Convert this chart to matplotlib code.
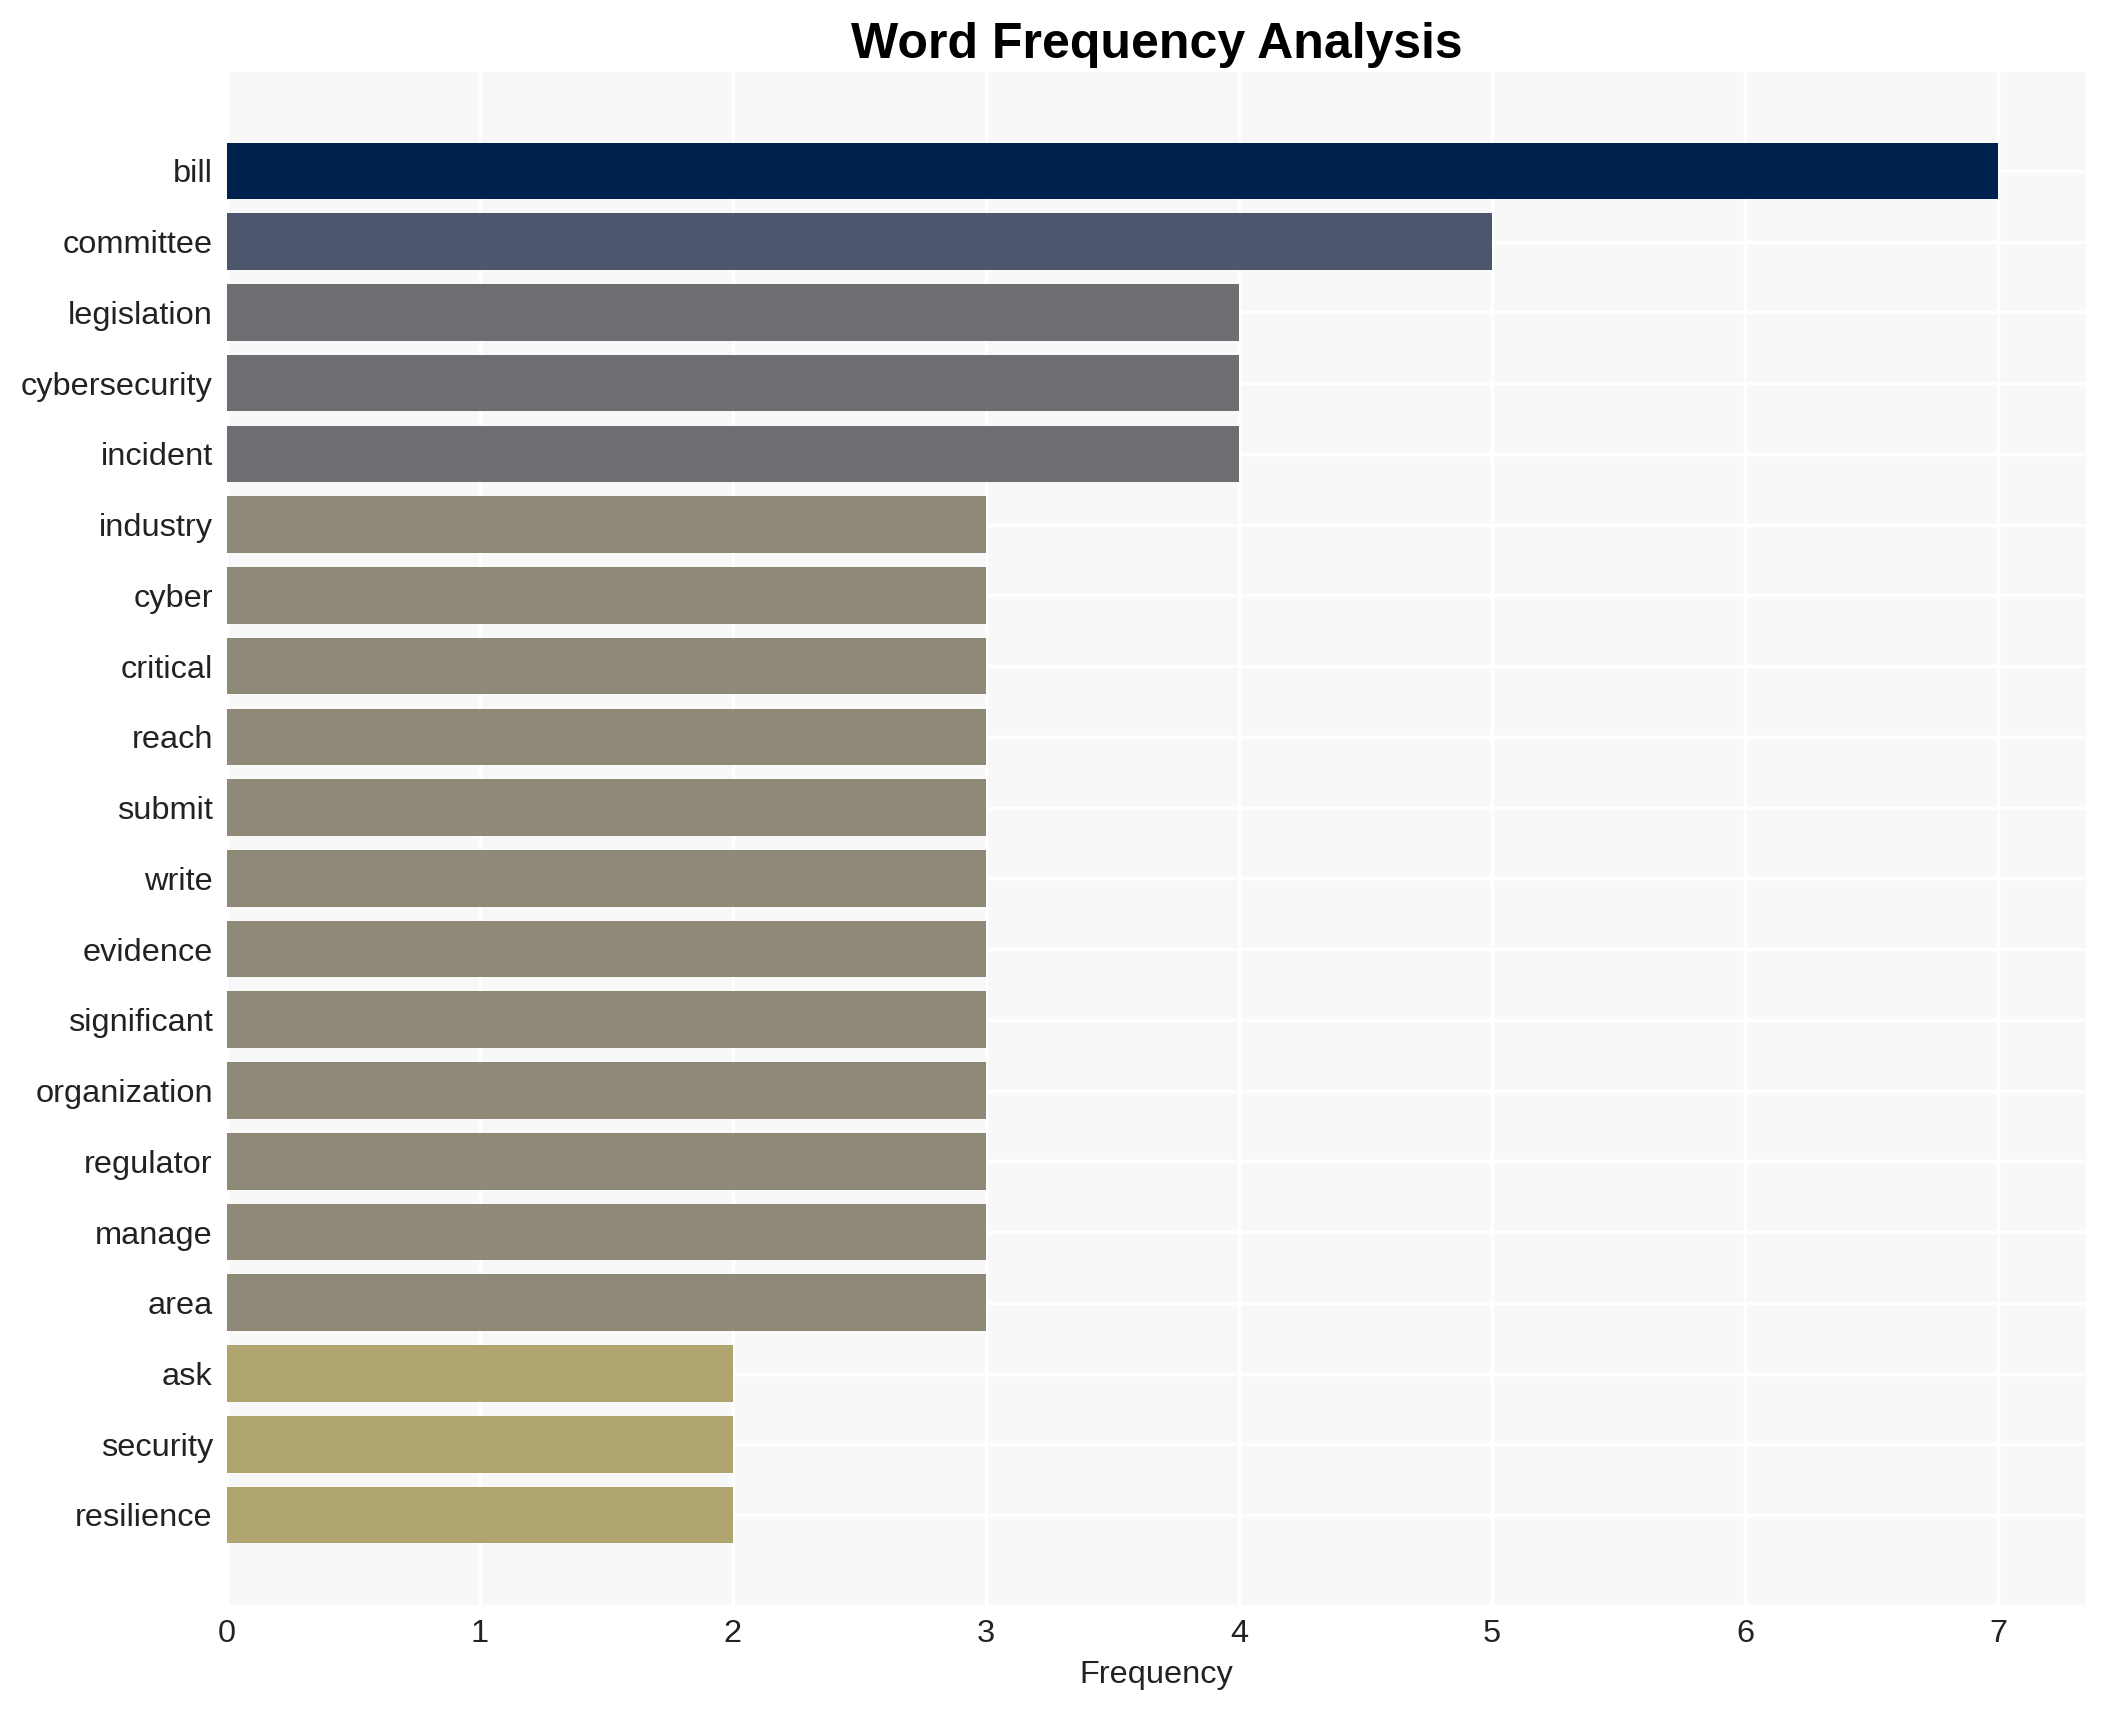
import matplotlib
matplotlib.use('Agg')
import matplotlib.pyplot as plt

plt.rcParams['font.family'] = ['Liberation Sans', 'DejaVu Sans']

words = ['bill', 'committee', 'legislation', 'cybersecurity', 'incident',
         'industry', 'cyber', 'critical', 'reach', 'submit', 'write',
         'evidence', 'significant', 'organization', 'regulator', 'manage',
         'area', 'ask', 'security', 'resilience']
counts = [7, 5, 4, 4, 4, 3, 3, 3, 3, 3, 3, 3, 3, 3, 3, 3, 3, 2, 2, 2]

# colour per frequency level (cividis-like)
level_colors = {7: '#00224e', 5: '#4d566d', 4: '#6d6e72',
                3: '#8f8a78', 2: '#b0a56f'}
colors = [level_colors[c] for c in counts]

fig = plt.figure(figsize=(10.525, 8.55), dpi=200)
ax = fig.add_axes([0.1077, 0.0615, 0.8835, 0.8965])
ax.set_facecolor('#f8f8f8')

ypos = list(range(len(words)))
ax.barh(ypos, counts, height=0.8, color=colors, zorder=2)

ax.set_yticks(ypos)
ax.set_yticklabels(words)
ax.set_ylim(len(words) - 1 + 1.27, -1.4)
ax.set_xlim(0, 7.35)
ax.set_xticks(range(0, 8))

ax.grid(True, color='white', linewidth=1.2, zorder=0)
ax.set_axisbelow(True)
for s in ax.spines.values():
    s.set_visible(False)
ax.tick_params(axis='both', length=0, labelsize=11.7, colors='#222222',
               pad=5)

ax.set_xlabel('Frequency', fontsize=11.7, color='#222222', labelpad=4)
ax.set_title('Word Frequency Analysis', fontsize=18, fontweight='bold',
             pad=5)

fig.savefig('out.png', dpi=200, facecolor='white')
